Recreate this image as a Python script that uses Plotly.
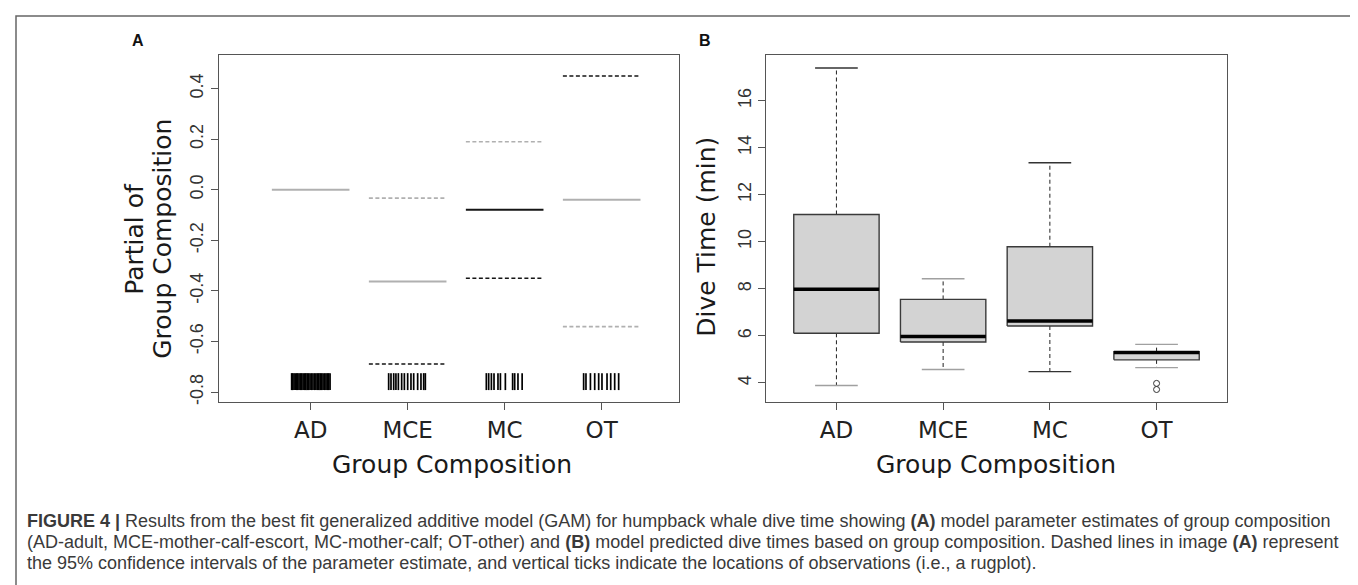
import plotly.graph_objects as go

W, H = 1358, 585

# ---------------- data ----------------
groups = ["AD", "MCE", "MC", "OT"]

# Panel A: partial effect of group composition (GAM) with 95% CI
est = [0.0, -0.363, -0.079, -0.039]
ci_upper = [None, -0.033, 0.190, 0.450]
ci_lower = [None, -0.689, -0.350, -0.541]
y_ticks_a = [-0.8, -0.6, -0.4, -0.2, 0.0, 0.2, 0.4]

# rug (jittered observation locations, offsets from category centre)
rug_ad = [-0.196, -0.186, -0.172, -0.160, -0.146, -0.134, -0.120, -0.106, -0.092, -0.078,
          -0.064, -0.050, -0.036, -0.020, -0.006, 0.010, 0.024, 0.040, 0.054, 0.068,
          0.084, 0.098, 0.114, 0.128, 0.144, 0.158, 0.172, 0.186, 0.200]
rug_mce = [-0.196, -0.172, -0.144, -0.121, -0.096, -0.062, -0.034, 0.0, 0.034,
           0.062, 0.103, 0.137, 0.165, 0.182]
rug_mc = [-0.189, -0.165, -0.137, -0.110, -0.069, -0.044, 0.007, 0.082, 0.103,
          0.137, 0.180]
rug_ot = [-0.186, -0.162, -0.116, -0.072, -0.031, 0.003, 0.055, 0.093, 0.134, 0.175]
rug_offsets = [rug_ad, rug_mce, rug_mc, rug_ot]
rug_span = [-0.792, -0.725]

# Panel B: dive time boxplot statistics (min)
whisk_lo = [3.89, 4.57, 4.48, 4.65]
q1 = [6.11, 5.74, 6.42, 4.98]
med = [7.98, 5.97, 6.63, 5.29]
q3 = [11.16, 7.55, 9.79, 5.33]
whisk_hi = [17.39, 8.43, 13.36, 5.64]
outlier_group = ["OT", "OT"]
outlier_val = [3.98, 3.72]
y_ticks_b = [4, 6, 8, 10, 12, 14, 16]

caption_lines = [
    "<b>FIGURE 4 |</b> Results from the best fit generalized additive model (GAM) for humpback whale dive time showing <b>(A)</b> model parameter estimates of group composition",
    "(AD-adult, MCE-mother-calf-escort, MC-mother-calf; OT-other) and <b>(B)</b> model predicted dive times based on group composition. Dashed lines in image <b>(A)</b> represent",
    "the 95% confidence intervals of the parameter estimate, and vertical ticks indicate the locations of observations (i.e., a rugplot).",
]

# ---------------- styles ----------------
GRAY = "#b0b0b0"
BLACK = "#151515"
est_col = [GRAY, GRAY, BLACK, GRAY]
up_col = [None, GRAY, GRAY, BLACK]
lo_col = [None, BLACK, BLACK, GRAY]
cap_hi_col = ["#333333", "#a0a0a0", "#333333", "#a0a0a0"]
cap_lo_col = ["#a0a0a0", "#a0a0a0", "#333333", "#a0a0a0"]


def px(v):
    return v / W


def py(v):
    return 1 - v / H


pos = {g: i + 1 for i, g in enumerate(groups)}

fig = go.Figure()

# ---- Panel A ----
for i, g in enumerate(groups):
    x0 = pos[g]
    fig.add_trace(go.Scatter(x=[x0 - 0.4, x0 + 0.4], y=[est[i], est[i]], mode="lines",
                             line=dict(color=est_col[i], width=2), xaxis="x", yaxis="y",
                             showlegend=False, hoverinfo="skip"))
    if ci_upper[i] is not None:
        fig.add_trace(go.Scatter(x=[x0 - 0.4, x0 + 0.4], y=[ci_upper[i], ci_upper[i]], mode="lines",
                                 line=dict(color=up_col[i], width=1.6, dash="4px,2.5px"),
                                 xaxis="x", yaxis="y", showlegend=False, hoverinfo="skip"))
        fig.add_trace(go.Scatter(x=[x0 - 0.4, x0 + 0.4], y=[ci_lower[i], ci_lower[i]], mode="lines",
                                 line=dict(color=lo_col[i], width=1.6, dash="4px,2.5px"),
                                 xaxis="x", yaxis="y", showlegend=False, hoverinfo="skip"))

rx, ry = [], []
for i, g in enumerate(groups):
    for off in rug_offsets[i]:
        rx += [pos[g] + off, pos[g] + off, None]
        ry += [rug_span[0], rug_span[1], None]
fig.add_trace(go.Scatter(x=rx, y=ry, mode="lines", line=dict(color="#000000", width=1.7),
                         xaxis="x", yaxis="y", showlegend=False, hoverinfo="skip"))

# ---- Panel B ----
for i, g in enumerate(groups):
    x0 = pos[g]
    fig.add_trace(go.Scatter(x=[x0, x0, None, x0, x0], y=[q3[i], whisk_hi[i], None, q1[i], whisk_lo[i]],
                             mode="lines", line=dict(color="#222222", width=1, dash="4px,3px"),
                             xaxis="x2", yaxis="y2", showlegend=False, hoverinfo="skip"))
    fig.add_trace(go.Scatter(x=[x0 - 0.2, x0 + 0.2], y=[whisk_hi[i], whisk_hi[i]], mode="lines",
                             line=dict(color=cap_hi_col[i], width=1.4), xaxis="x2", yaxis="y2",
                             showlegend=False, hoverinfo="skip"))
    fig.add_trace(go.Scatter(x=[x0 - 0.2, x0 + 0.2], y=[whisk_lo[i], whisk_lo[i]], mode="lines",
                             line=dict(color=cap_lo_col[i], width=1.4), xaxis="x2", yaxis="y2",
                             showlegend=False, hoverinfo="skip"))
    fig.add_trace(go.Scatter(x=[x0 - 0.4, x0 + 0.4, x0 + 0.4, x0 - 0.4, x0 - 0.4],
                             y=[q1[i], q1[i], q3[i], q3[i], q1[i]], mode="lines", fill="toself",
                             fillcolor="#d3d3d3", line=dict(color="#3a3a3a", width=1.4),
                             xaxis="x2", yaxis="y2", showlegend=False, hoverinfo="skip"))
    fig.add_trace(go.Scatter(x=[x0 - 0.4, x0 + 0.4], y=[med[i], med[i]], mode="lines",
                             line=dict(color="#000000", width=3.5), xaxis="x2", yaxis="y2",
                             showlegend=False, hoverinfo="skip"))

fig.add_trace(go.Scatter(x=[pos[g] for g in outlier_group], y=outlier_val, mode="markers",
                         marker=dict(symbol="circle-open", size=6, color="#333333", line=dict(width=1)),
                         xaxis="x2", yaxis="y2", showlegend=False, hoverinfo="skip"))

# ---------------- axes ----------------
xa_common = dict(showgrid=False, zeroline=False, showline=True, mirror=True, linecolor="#555555",
                 linewidth=1.3, ticks="outside", ticklen=7, tickcolor="#555555", tickwidth=1,
                 tickvals=[pos[g] for g in groups], ticktext=groups,
                 tickfont=dict(family="DejaVu Sans", size=23, color="#222222"), fixedrange=True)
ya_common = dict(showgrid=False, zeroline=False, showline=True, mirror=True, linecolor="#555555",
                 linewidth=1.3, ticks="outside", ticklen=7, tickcolor="#555555", tickwidth=1,
                 tickangle=-90, tickfont=dict(family="Liberation Sans", size=18, color="#333333"),
                 fixedrange=True)

ydom = [py(396), py(47.5)]
fig.update_layout(
    width=W, height=H, margin=dict(l=0, r=0, t=0, b=0),
    paper_bgcolor="white", plot_bgcolor="white",
    xaxis=dict(domain=[px(210.7), px(671)], range=[0.052, 4.797], anchor="y", **xa_common),
    yaxis=dict(domain=ydom, range=[-0.839, 0.532], anchor="x",
               tickvals=y_ticks_a, ticktext=[f"{v:.1f}" for v in y_ticks_a], **ya_common),
    xaxis2=dict(domain=[px(758), px(1219)], range=[0.34, 4.66], anchor="y2", **xa_common),
    yaxis2=dict(domain=ydom, range=[3.19, 17.93], anchor="x2",
                tickvals=y_ticks_b, ticktext=[str(v) for v in y_ticks_b], **ya_common),
)

# ---------------- annotations ----------------
ann = []


def add_text(text, x, y, size, family="DejaVu Sans", angle=0, xanchor="center", color="#1a1a1a"):
    ann.append(dict(text=text, x=px(x), y=py(y), xref="paper", yref="paper", showarrow=False,
                    xanchor=xanchor, yanchor="middle", textangle=angle,
                    font=dict(family=family, size=size, color=color)))


add_text("<b>A</b>", 130, 33, 16, family="Liberation Sans", color="#111111")
add_text("<b>B</b>", 697, 33, 16, family="Liberation Sans", color="#111111")
add_text("Partial of", 127, 232, 25, angle=-90)
add_text("Group Composition", 155, 232, 25, angle=-90)
add_text("Dive Time (min)", 699, 230, 25, angle=-90)
add_text("Group Composition", 443.7, 459, 25)
add_text("Group Composition", 988.3, 459, 25)
for k, line in enumerate(caption_lines):
    add_text(line, 17, 516 + 21 * k, 18, family="Liberation Sans", xanchor="left", color="#3a3a3a")

fig.update_layout(annotations=ann)

fig.add_shape(type="rect", xref="paper", yref="paper", x0=px(8), x1=px(1354), y0=py(8), y1=py(582),
              line=dict(color="#666666", width=1.5))

fig.write_html("out.html")
